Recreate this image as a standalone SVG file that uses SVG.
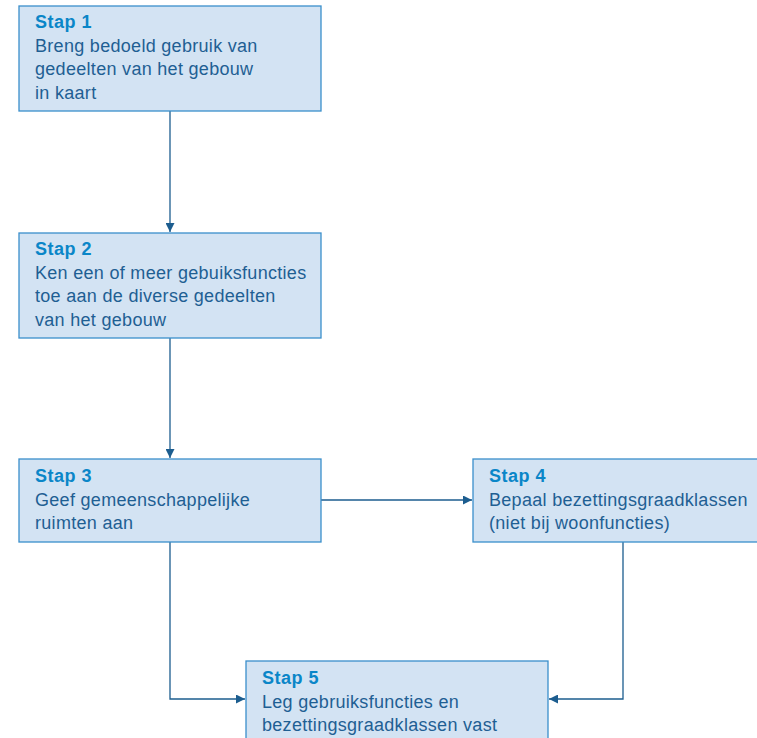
<svg xmlns="http://www.w3.org/2000/svg" width="757" height="738" viewBox="0 0 757 738">
<defs>
<style>
.box{fill:#d3e3f3;stroke:#3a8fcb;stroke-width:1.3}
.t{font-family:"Liberation Sans",Arial,sans-serif;font-size:18px;letter-spacing:0.5px;fill:#0a86c8;font-weight:bold}
.b{font-family:"Liberation Sans",Arial,sans-serif;font-size:18px;letter-spacing:0.3px;fill:#1f5f93}
.c{fill:none;stroke:#1c5d8f;stroke-width:1.3}
</style>
<marker id="a" viewBox="0 0 10 10" refX="10" refY="5" markerWidth="9" markerHeight="9" markerUnits="userSpaceOnUse" orient="auto"><path d="M0,0L10,5L0,10z" fill="#1c5d8f"/></marker>
</defs>
<rect width="757" height="738" fill="#fff"/>
<g id="connectors">
<path class="c" d="M170,111V232" marker-end="url(#a)"/>
<path class="c" d="M170,338V458" marker-end="url(#a)"/>
<path class="c" d="M321,500H472" marker-end="url(#a)"/>
<path class="c" d="M170,542V699H245" marker-end="url(#a)"/>
<path class="c" d="M623,542V699H549" marker-end="url(#a)"/>
</g>
<g id="stap1"><rect class="box" x="19" y="6" width="302" height="105"/>
<text class="t" x="35" y="28">Stap 1</text>
<text class="b" x="35" y="52">Breng bedoeld gebruik van</text>
<text class="b" x="35" y="75">gedeelten van het gebouw</text>
<text class="b" x="35" y="99">in kaart</text></g>
<g id="stap2"><rect class="box" x="19" y="233" width="302" height="105"/>
<text class="t" x="35" y="255">Stap 2</text>
<text class="b" x="35" y="279">Ken een of meer gebuiksfuncties</text>
<text class="b" x="35" y="302">toe aan de diverse gedeelten</text>
<text class="b" x="35" y="326">van het gebouw</text></g>
<g id="stap3"><rect class="box" x="19" y="459" width="302" height="83"/>
<text class="t" x="35" y="482">Stap 3</text>
<text class="b" x="35" y="506">Geef gemeenschappelijke</text>
<text class="b" x="35" y="529">ruimten aan</text></g>
<g id="stap4"><rect class="box" x="473" y="459" width="290" height="83"/>
<text class="t" x="489" y="482">Stap 4</text>
<text class="b" x="489" y="506">Bepaal bezettingsgraadklassen</text>
<text class="b" x="489" y="529">(niet bij woonfuncties)</text></g>
<g id="stap5"><rect class="box" x="246" y="661" width="302" height="90"/>
<text class="t" x="262" y="684">Stap 5</text>
<text class="b" x="262" y="708">Leg gebruiksfuncties en</text>
<text class="b" x="262" y="731">bezettingsgraadklassen vast</text></g>
</svg>
